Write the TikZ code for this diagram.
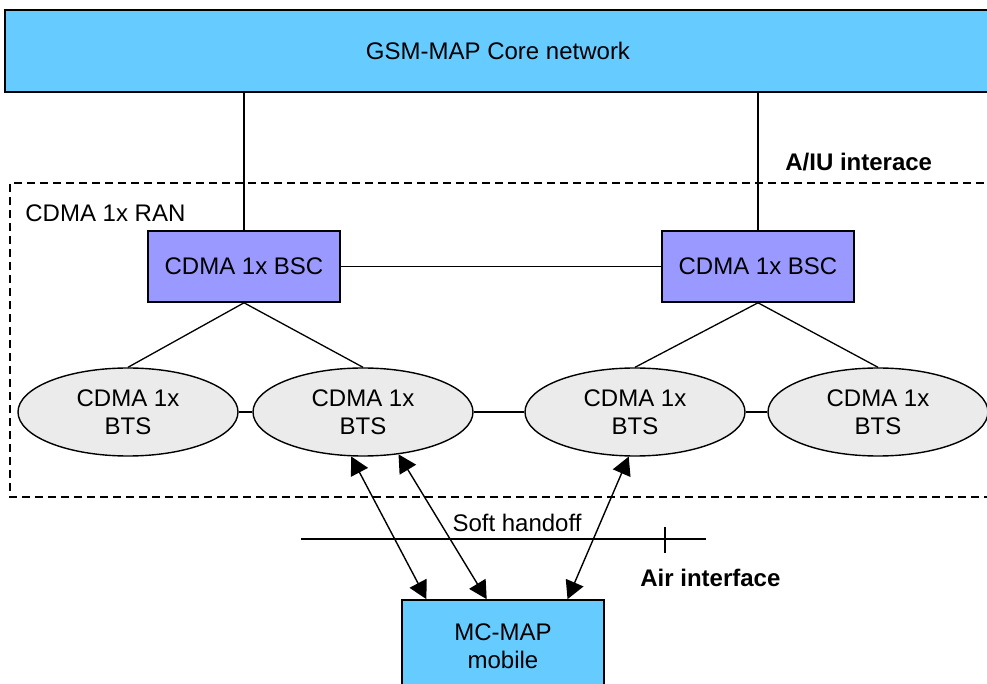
\documentclass[tikz,border=0pt]{standalone}
\usepackage{fontspec}
\setmainfont{Liberation Sans}
\usetikzlibrary{shapes.geometric,arrows.meta,calc}
\definecolor{coreblue}{HTML}{66CCFF}
\definecolor{bscviolet}{HTML}{9999FF}
\definecolor{btsgrey}{HTML}{EBEBEB}
\begin{document}
\begin{tikzpicture}[x=0.5pt,y=-0.5pt,
  font=\fontsize{12}{14}\selectfont,
  box/.style={draw=black,line width=0.8pt,inner sep=0pt,align=center},
  bsc/.style={box,fill=bscviolet,minimum width=96pt,minimum height=35.5pt},
  bts/.style={ellipse,draw=black,line width=0.7pt,fill=btsgrey,inner sep=0pt,
              minimum width=110pt,minimum height=44pt,align=center},
  link/.style={line width=0.65pt},
  radio/.style={line width=0.7pt,{Triangle[length=9pt,width=9.5pt]}-{Triangle[length=9pt,width=9.5pt]}},
  lbl/.style={inner sep=0pt,anchor=west},
  bold/.style={font=\fontsize{12}{14}\selectfont\bfseries}]
\useasboundingbox (0,0) rectangle (987,684);
\clip (0,0) rectangle (987,684);

% core network bar
\node[box,fill=coreblue,minimum width=493pt,minimum height=41pt] (core) at (498,51) {GSM-MAP Core network};

% radio access network boundary
\draw[line width=0.7pt,dash pattern=on 4pt off 2.5pt] (1010,183) -- (10,183) -- (10,497) -- (1010,497);
\node[lbl] (ran) at (25,213) {CDMA 1x RAN};
\node[lbl,bold] (aiu) at (785,162) {A/IU interace};

% base station controllers
\node[bsc] (bsc1) at (244,266.5) {CDMA 1x BSC};
\node[bsc] (bsc2) at (758,266.5) {CDMA 1x BSC};

% base transceiver stations
\node[bts] (bts1) at (128,412) {CDMA 1x\\BTS};
\node[bts] (bts2) at (363,412) {CDMA 1x\\BTS};
\node[bts] (bts3) at (635,412) {CDMA 1x\\BTS};
\node[bts] (bts4) at (878,412) {CDMA 1x\\BTS};

% mobile station
\node[box,fill=coreblue,minimum width=101pt,minimum height=46pt] (mobile) at (503,646) {MC-MAP\\mobile};

% wired links
\draw[link] (bsc1.north |- core.south) -- (bsc1.north);
\draw[link] (bsc2.north |- core.south) -- (bsc2.north);
\draw[link] (bsc1.east) -- (bsc2.west);
\draw[link] (bsc1.south) -- (bts1.north);
\draw[link] (bsc1.south) -- (bts2.north);
\draw[link] (bsc2.south) -- (bts3.north);
\draw[link] (bsc2.south) -- (bts4.north);
\draw[link] (bts1.east) -- (bts2.west);
\draw[link] (bts2.east) -- (bts3.west);
\draw[link] (bts3.east) -- (bts4.west);

% air links
\coordinate (m1) at ($(mobile.north west)!0.124!(mobile.north east)$);
\coordinate (m2) at ($(mobile.north west)!0.42!(mobile.north east)$);
\coordinate (m3) at ($(mobile.north west)!0.817!(mobile.north east)$);
\draw[radio] (bts2.255) -- (m1);
\draw[radio] (bts2.310) -- (m2);
\draw[radio] (bts3.262) -- (m3);

% soft handoff marker
\coordinate (sh1) at (301,539);
\coordinate (sh2) at (706,539);
\coordinate (tk1) at (665,527);
\coordinate (tk2) at (665,553);
\draw[link] (sh1) -- (sh2);
\draw[link] (tk1) -- (tk2);
\node[inner sep=0pt] (soft) at (517,523) {Soft handoff};
\node[lbl,bold] (air) at (640,578) {Air interface};
\end{tikzpicture}
\end{document}
